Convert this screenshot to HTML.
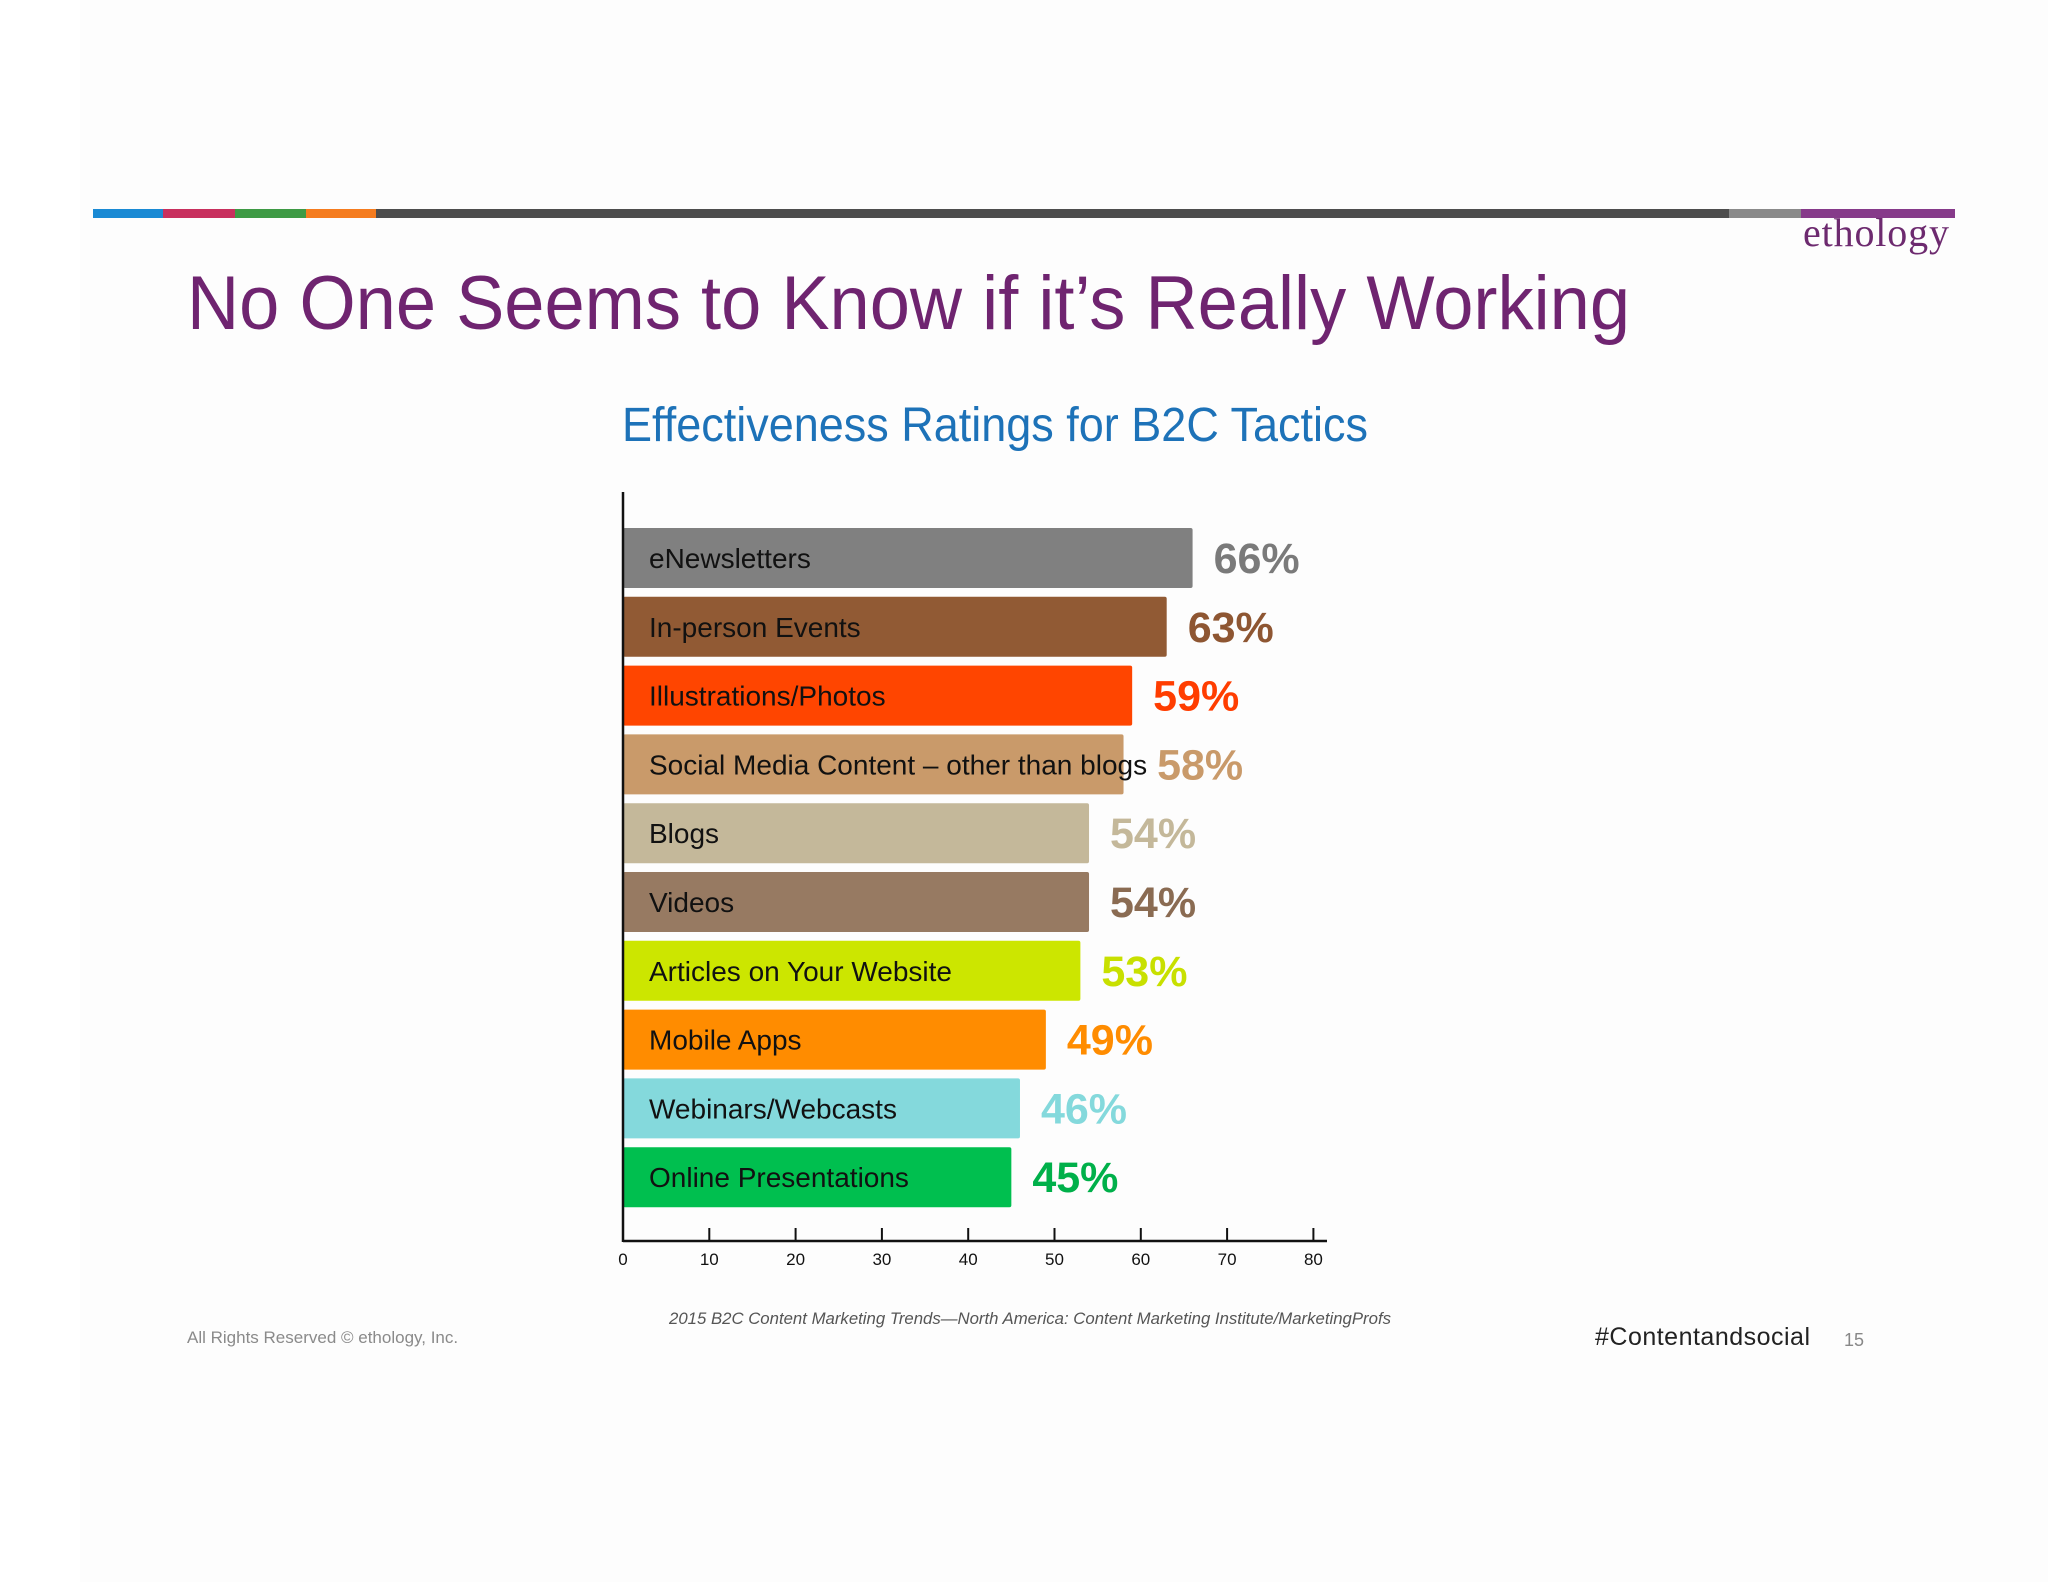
<!DOCTYPE html>
<html><head><meta charset="utf-8"><style>
html,body{margin:0;padding:0;background:#fff;}
svg{display:block;}
</style></head><body>
<svg id="chart" width="2048" height="1582" viewBox="0 0 2048 1582" xmlns="http://www.w3.org/2000/svg">
<rect x="0" y="0" width="2048" height="1582" fill="#ffffff"/>
<rect x="80" y="0" width="1968" height="1582" fill="#fdfdfd"/>
<g>
<rect x="93" y="209" width="70" height="9" fill="#1a8ad4"/>
<rect x="163" y="209" width="72" height="9" fill="#c8305e"/>
<rect x="235" y="209" width="71" height="9" fill="#3e9a45"/>
<rect x="306" y="209" width="70" height="9" fill="#f57c1f"/>
<rect x="376" y="209" width="1353" height="9" fill="#4d4d4d"/>
<rect x="1729" y="209" width="72" height="9" fill="#8a8a8a"/>
<rect x="1801" y="209" width="154" height="9" fill="#863a8a"/>
</g>
<text x="1803" y="246" font-family="Liberation Serif, serif" font-size="40" fill="#6d2a6f" textLength="146">ethology</text>
<text x="187" y="329" font-family="Liberation Sans, sans-serif" font-size="76" fill="#6f2470" textLength="1443" lengthAdjust="spacingAndGlyphs">No One Seems to Know if it’s Really Working</text>
<text x="622" y="441" font-family="Liberation Sans, sans-serif" font-size="48" fill="#1d72b8" textLength="746" lengthAdjust="spacingAndGlyphs">Effectiveness Ratings for B2C Tactics</text>
<g id="bars"></g>
<g id="axes"></g>
<text x="187" y="1343" font-family="Liberation Sans, sans-serif" font-size="17" fill="#8a8a8a">All Rights Reserved © ethology, Inc.</text>
<text x="669" y="1324" font-family="Liberation Sans, sans-serif" font-style="italic" font-size="17" fill="#555" textLength="722" lengthAdjust="spacingAndGlyphs">2015 B2C Content Marketing Trends—North America: Content Marketing Institute/MarketingProfs</text>
<text x="1595" y="1345" font-family="Liberation Sans, sans-serif" font-size="25" fill="#222" textLength="215">#Contentandsocial</text>
<text x="1844" y="1346" font-family="Liberation Sans, sans-serif" font-size="18" fill="#888">15</text>
</svg>
<script>
const categories = ["eNewsletters","In-person Events","Illustrations/Photos","Social Media Content – other than blogs","Blogs","Videos","Articles on Your Website","Mobile Apps","Webinars/Webcasts","Online Presentations"];
const values = [66,63,59,58,54,54,53,49,46,45];
const barColors = ["#808080","#915a34","#ff4500","#c99a6a","#c4b89a","#977a62","#cce600","#ff8c00","#84d9dc","#00bf4f"];
const labelColors = ["#7a7a7a","#8e5632","#ff3d00","#c99a6a","#c4b89a","#8a6b52","#c8e000","#ff8c00","#84d9dc","#00b04a"];
const ticks = [0,10,20,30,40,50,60,70,80];
const NS="http://www.w3.org/2000/svg";
const X0=623, XMAX=80, XSCALE=8.63;
const x = v => X0 + v*XSCALE;
const yTop = i => 528 + i*68.8;
const BH=60;
function mk(tag, attrs){const e=document.createElementNS(NS,tag);for(const k in attrs)e.setAttribute(k,attrs[k]);return e;}
const bars=document.getElementById('bars');
categories.forEach((c,i)=>{
  const r=mk('rect',{x:X0,y:yTop(i),width:x(values[i])-X0,height:BH,rx:2,fill:barColors[i]});
  
  
  bars.appendChild(r);
  const t=mk('text',{x:649,y:yTop(i)+BH/2+10,'font-family':'Liberation Sans, sans-serif','font-size':28,fill:'#111'});
  t.textContent=c;
  
  
  bars.appendChild(t);
  let lx = x(values[i])+21;
  try { const te = 649 + t.getComputedTextLength() + 10; if (te > lx) lx = te; } catch(e) {}
  const v=mk('text',{x:lx,y:yTop(i)+BH/2+15,'font-family':'Liberation Sans, sans-serif','font-size':43,'font-weight':'bold',fill:labelColors[i]});
  v.textContent=values[i]+'%';
  
  
  bars.appendChild(v);
});
const axes=document.getElementById('axes');
const ya=mk('line',{x1:X0,y1:492,x2:X0,y2:1242,stroke:'#111','stroke-width':2.5});


axes.appendChild(ya);
const xa=mk('line',{x1:X0,y1:1241,x2:1327,y2:1241,stroke:'#111','stroke-width':2.5});


axes.appendChild(xa);
ticks.forEach(tv=>{
  const tk=mk('line',{x1:x(tv),y1:1228,x2:x(tv),y2:1241,stroke:'#111','stroke-width':2});
  
  
  axes.appendChild(tk);
  const tl=mk('text',{x:x(tv),y:1265,'text-anchor':'middle','font-family':'Liberation Sans, sans-serif','font-size':17,fill:'#111'});
  tl.textContent=tv;
  
  
  axes.appendChild(tl);
});
</script>
</body></html>
